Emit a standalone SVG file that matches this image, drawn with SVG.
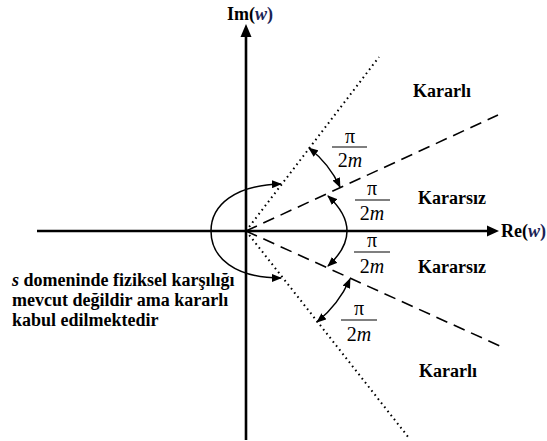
<svg xmlns="http://www.w3.org/2000/svg" width="547" height="441" viewBox="0 0 547 441">
<defs>
<style>
.t{font-family:"Liberation Serif","Times New Roman",serif;font-weight:bold;font-size:18px;fill:#000}
.f{font-family:"Liberation Serif","Times New Roman",serif;font-size:20px;fill:#000;text-anchor:middle}
.w{font-style:italic;fill:#1a2355}
.axis{stroke:#000;stroke-width:2.6;fill:none}
.dash{stroke:#000;stroke-width:1.6;stroke-dasharray:12 7;fill:none}
.dot{stroke:#000;stroke-width:2;stroke-dasharray:1.6 3.6;fill:none}
.arc{stroke:#000;stroke-width:1.5;fill:none;marker-start:url(#ah);marker-end:url(#ah)}
.arc1{stroke:#000;stroke-width:1.5;fill:none;marker-end:url(#ah)}
.bar{stroke:#000;stroke-width:1.2}
</style>
<marker id="ah" viewBox="0 0 10 8" refX="9" refY="4" markerWidth="10" markerHeight="8" markerUnits="userSpaceOnUse" orient="auto-start-reverse">
<path d="M0,0 L10,4 L0,8 z" fill="#000"/>
</marker>
</defs>
<g id="connectors">
<line class="axis" x1="37" y1="231" x2="489" y2="231"/>
<path d="M487,225.5 L499,231 L487,236.5 z" fill="#000"/>
<line class="axis" x1="246" y1="440" x2="246" y2="36"/>
<path d="M240.5,37 L246,24 L251.5,37 z" fill="#000"/>
<line class="dash" x1="246" y1="231" x2="498" y2="115"/>
<line class="dash" x1="246" y1="231" x2="500" y2="346"/>
<line class="dot" x1="246" y1="231" x2="379" y2="57"/>
<line class="dot" x1="246" y1="231" x2="409" y2="438"/>
<path class="arc" d="M309,148 A105,105 0 0 1 340,187"/>
<path class="arc" d="M328,196 Q366,231 328,266"/>
<path class="arc" d="M350,279 A116,116 0 0 1 317,322"/>
<path class="arc" d="M281,184 C235,185 211,205 211,231 C211,258 235,278 281,278"/>
</g>
<g id="im-label"><text class="t" x="227" y="20">Im(<tspan class="w">w</tspan><tspan fill="#1a2355">)</tspan></text></g>
<g id="re-label"><text class="t" x="501" y="237">Re(<tspan class="w">w</tspan><tspan fill="#1a2355">)</tspan></text></g>
<g id="kararli-top"><text class="t" x="413" y="97">Kararlı</text></g>
<g id="kararsiz-top"><text class="t" x="418" y="204">Kararsız</text></g>
<g id="kararsiz-bottom"><text class="t" x="418" y="273">Kararsız</text></g>
<g id="kararli-bottom"><text class="t" x="419" y="377">Kararlı</text></g>
<g id="note">
<text class="t" x="12" y="286"><tspan font-style="italic">s</tspan> domeninde fiziksel karşılığı</text>
<text class="t" x="12" y="306">mevcut değildir ama kararlı</text>
<text class="t" x="12" y="326">kabul edilmektedir</text>
</g>
<g id="frac1">
<text class="f" x="350" y="143">π</text>
<line class="bar" x1="332" y1="147" x2="367" y2="147"/>
<text class="f" x="350" y="167">2<tspan font-style="italic">m</tspan></text>
</g>
<g id="frac2">
<text class="f" x="372" y="195">π</text>
<line class="bar" x1="355" y1="200" x2="390" y2="200"/>
<text class="f" x="372" y="220">2<tspan font-style="italic">m</tspan></text>
</g>
<g id="frac3">
<text class="f" x="372" y="247">π</text>
<line class="bar" x1="354" y1="252" x2="390" y2="252"/>
<text class="f" x="372" y="273">2<tspan font-style="italic">m</tspan></text>
</g>
<g id="frac4">
<text class="f" x="359" y="315">π</text>
<line class="bar" x1="341" y1="320" x2="377" y2="320"/>
<text class="f" x="359" y="341">2<tspan font-style="italic">m</tspan></text>
</g>
</svg>
